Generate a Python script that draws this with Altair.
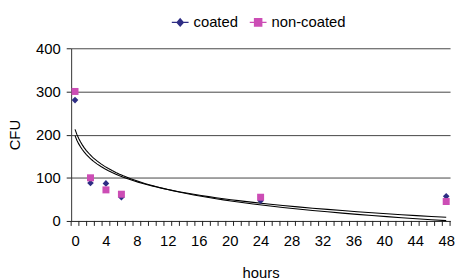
import altair as alt
import pandas as pd

hours = [0, 2, 4, 6, 24, 48]
coated = [280, 88, 87, 55, 47, 57]
non_coated = [300, 100, 72, 62, 55, 45]
series_names = ["coated", "non-coated"]
series_colors = ["#2E2D84", "#CC4DB5"]
x_tick_values = [i - 0.5 for i in range(50)]
y_tick_values = [0, 100, 200, 300, 400]

rows = []
for h, c, n in zip(hours, coated, non_coated):
    rows.append({"hours": h, "CFU": c, "series": "coated"})
    rows.append({"hours": h, "CFU": n, "series": "non-coated"})
df = pd.DataFrame(rows)
ticks_df = pd.DataFrame({"tick": x_tick_values})

FONT = "Liberation Sans"
xscale = alt.Scale(domain=[-0.5, 48.5], nice=False, zero=False)
yscale = alt.Scale(domain=[0, 400], nice=False)

x_axis = alt.Axis(
    values=x_tick_values,
    labelExpr="((datum.value + 0.5) % 4 == 0 && datum.value < 48) ? format(datum.value + 0.5, 'd') : ''",
    labelOffset=3.92,
    grid=False,
    ticks=False,
    labelPadding=13,
    labelFlush=False,
    labelOverlap=False,
    labelBound=False,
    title="hours",
    titleY=57,
    titleBaseline="alphabetic",
)
y_axis = alt.Axis(
    values=y_tick_values,
    grid=True,
    ticks=True,
    tickSize=5,
    labelPadding=6,
    title="CFU",
    titleX=-57,
    titleY=87.5,
    titleAngle=-90,
    titleAlign="center",
    titleBaseline="middle",
)

color_scale = alt.Scale(domain=series_names, range=series_colors)

points = alt.Chart(df).mark_point(filled=True, opacity=1).encode(
    x=alt.X("hours:Q", scale=xscale, axis=x_axis),
    y=alt.Y("CFU:Q", scale=yscale, axis=y_axis),
    color=alt.Color("series:N", scale=color_scale, legend=None),
    shape=alt.Shape("series:N", scale=alt.Scale(domain=series_names, range=["diamond", "square"]), legend=None),
    size=alt.Size("series:N", scale=alt.Scale(domain=series_names, range=[45, 50]), legend=None),
)

# legend key = a short line with a marker drawn as nested outlines (reads as filled)
key_paths = {
    "coated": "M-1,0L1,0M0,-0.42L0.36,0L0,0.42L-0.36,0ZM0,-0.26L0.22,0L0,0.26L-0.22,0ZM0,-0.1L0.09,0L0,0.1L-0.09,0Z",
    "non-coated": "M-1,0L1,0M-0.42,-0.42L0.42,-0.42L0.42,0.42L-0.42,0.42ZM-0.26,-0.26L0.26,-0.26L0.26,0.26L-0.26,0.26ZM-0.1,-0.1L0.1,-0.1L0.1,0.1L-0.1,0.1Z",
}
legend_df = pd.DataFrame({"series": series_names})

legend_layer = alt.Chart(legend_df).mark_point(filled=False, opacity=0, strokeWidth=1.5).encode(
    x=alt.value(0),
    y=alt.value(0),
    color=alt.Color("series:N", scale=color_scale,
                    legend=alt.Legend(
                        title=None,
                        orient="none",
                        direction="horizontal",
                        legendX=101,
                        legendY=-36,
                        symbolSize=289,
                        symbolOpacity=1,
                        symbolStrokeWidth=1.5,
                        labelFont=FONT,
                        labelFontSize=15,
                        labelColor="#000000",
                        labelOffset=4,
                        columnPadding=8,
                    )),
    shape=alt.Shape("series:N",
                    scale=alt.Scale(domain=series_names,
                                    range=[key_paths[s] for s in series_names]),
                    legend=None),
)

trend = alt.Chart(df).transform_calculate(
    idx="datum.hours + 1"
).transform_regression(
    "idx", "CFU", method="log", groupby=["series"], extent=[1, 49]
).transform_calculate(
    hours="datum.idx - 1"
).mark_line(color="#000000", strokeWidth=1.1).encode(
    x=alt.X("hours:Q", scale=xscale, axis=x_axis),
    y=alt.Y("CFU:Q", scale=yscale, axis=y_axis),
    detail="series:N",
)

x_ticks = alt.Chart(ticks_df).mark_rule(color="#222222", strokeWidth=1).encode(
    x=alt.X("tick:Q", scale=xscale, axis=x_axis),
    y=alt.value(175),
    y2=alt.value(180),
)

chart = alt.layer(trend, points, legend_layer, x_ticks).resolve_scale(
    shape="independent", size="independent", color="independent"
).properties(
    width=384,
    height=175,
    autosize=alt.AutoSizeParams(type="none"),
    padding={"left": 64, "top": 39, "right": 5, "bottom": 58},
).configure_view(
    stroke=None
).configure_axis(
    labelFont=FONT,
    titleFont=FONT,
    labelFontSize=15,
    titleFontSize=15,
    titleFontWeight="normal",
    labelColor="#000000",
    titleColor="#000000",
    domainColor="#333333",
    tickColor="#222222",
    gridColor="#444444",
    gridWidth=1,
    domainWidth=1,
)

chart.save("out.html", embed_options={"renderer": "svg", "actions": False})
